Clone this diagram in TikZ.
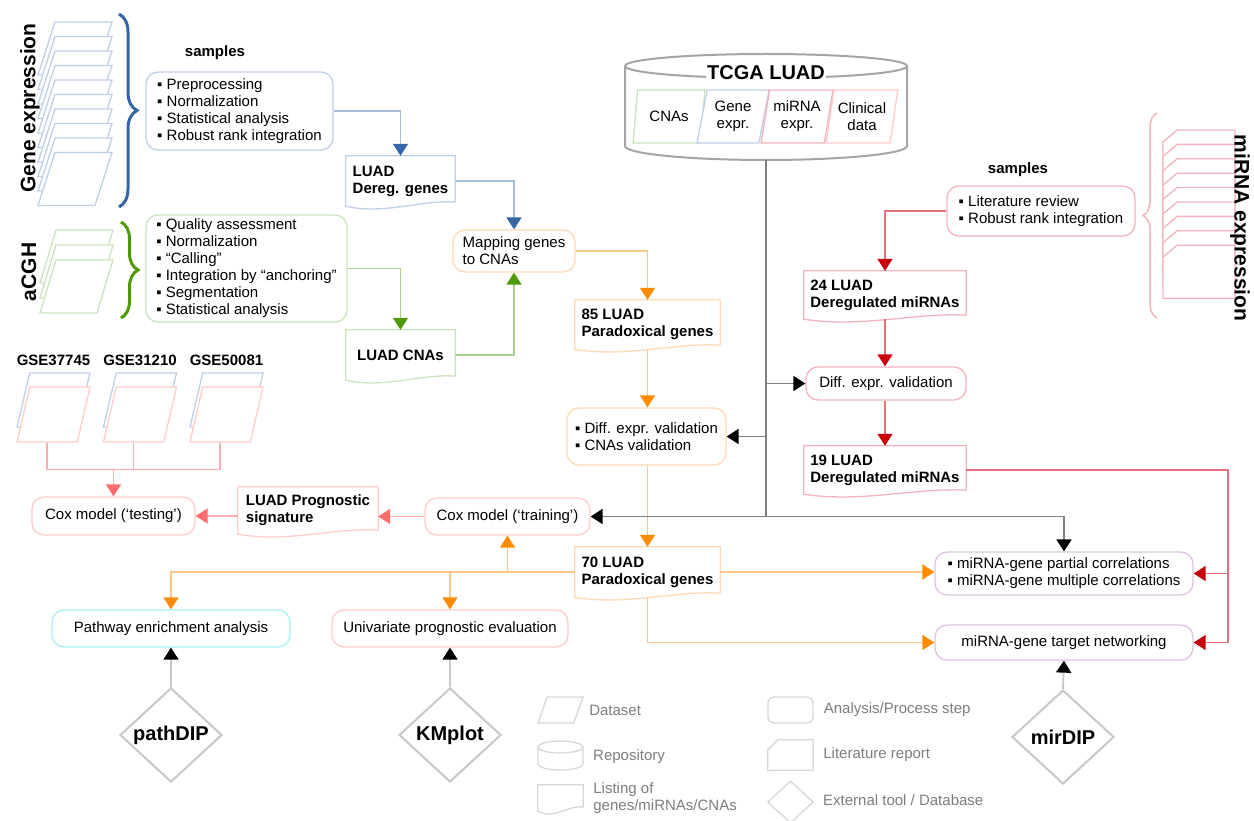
\documentclass[tikz,border=0pt]{standalone}
\usepackage{fontspec}
\setmainfont{Liberation Sans}
\usetikzlibrary{positioning,arrows.meta,calc,shapes.geometric,decorations.pathreplacing}

\definecolor{tipblue}{RGB}{52,101,164}
\definecolor{lineblue}{RGB}{168,188,222}
\definecolor{boxblue}{RGB}{192,207,232}
\definecolor{tipgreen}{RGB}{78,154,6}
\definecolor{linegreen}{RGB}{168,208,140}
\definecolor{boxgreen}{RGB}{204,228,190}
\definecolor{tiporange}{RGB}{255,140,0}
\definecolor{lineorange}{RGB}{255,198,140}
\definecolor{boxorange}{RGB}{255,218,178}
\definecolor{tipred}{RGB}{200,0,10}
\definecolor{linered}{RGB}{228,112,124}
\definecolor{boxred}{RGB}{242,180,188}
\definecolor{tippink}{RGB}{255,110,110}
\definecolor{linepink}{RGB}{255,172,172}
\definecolor{boxpink}{RGB}{255,204,204}
\definecolor{boxcyan}{RGB}{168,240,240}
\definecolor{boxviolet}{RGB}{222,196,222}
\definecolor{trunkgray}{RGB}{128,128,128}
\definecolor{toolgray}{RGB}{200,200,200}
\definecolor{repogray}{RGB}{165,165,165}
\definecolor{leggray}{RGB}{215,215,215}
\definecolor{legtext}{RGB}{125,125,125}

\newcommand\txtfont{\fontsize{15}{17}\selectfont}

% outline of a listing (wavy bottom) around a named node
\newcommand\listshape[2]{%
  \draw[#2, line width=1.3pt] ([yshift=4pt]#1.south east) -- (#1.north east) -- (#1.north west) -- (#1.south west)
    .. controls ($(#1.south west)!0.35!(#1.south east)+(0,-9pt)$) and ($(#1.south west)!0.7!(#1.south east)+(0,7pt)$) .. ([yshift=4pt]#1.south east);}

\tikzset{
  procbox/.style={draw, rounded corners=12pt, line width=1.3pt, fill=white, align=left, inner sep=3pt, font=\txtfont},
  listbox/.style={align=left, inner sep=3pt, font=\txtfont\bfseries},
  dataset/.style={trapezium, trapezium left angle=75, trapezium right angle=105, trapezium stretches=true, line width=1.3pt, fill=white, inner sep=1pt, align=center, font=\txtfont},
  tool/.style={diamond, draw=toolgray, line width=2pt, fill=white, inner sep=0pt, minimum width=102pt, minimum height=94pt, font=\fontsize{20}{22}\selectfont\bfseries},
  sidelabel/.style={font=\fontsize{21}{24}\selectfont\bfseries},
  title/.style={font=\txtfont\bfseries},
  legendtext/.style={text=legtext, align=left, inner xsep=0pt, font=\txtfont},
  legendbox/.style={draw=leggray, line width=1.3pt},
  linkarrow/.style={line width=1.5pt, -{Triangle[length=12pt, width=15pt, color=#1]}},
  bluearrow/.style={linkarrow=tipblue, draw=lineblue},
  greenarrow/.style={linkarrow=tipgreen, draw=linegreen},
  orangearrow/.style={linkarrow=tiporange, draw=lineorange},
  redarrow/.style={linkarrow=tipred, draw=linered},
  pinkarrow/.style={linkarrow=tippink, draw=linepink},
  pinkline/.style={draw=linepink, line width=1.5pt},
  trunkline/.style={draw=trunkgray, line width=1.8pt},
  trunkarrow/.style={linkarrow=black, draw=trunkgray, line width=1.8pt}
}

\begin{document}
\begin{tikzpicture}[x=1pt, y=-1pt, every node/.style={font=\txtfont}]
\useasboundingbox (0,0) rectangle (1254,821);

% sample stacks and braces
\foreach \i in {0,...,9}
  \draw[boxblue, line width=1.3pt, fill=white] (38,{75+14.5*\i}) -- ++(17,-53) -- ++(57,0) -- ++(-17,53) -- cycle;
\foreach \i in {0,1,2}
  \draw[boxgreen, line width=1.3pt, fill=white] (40,{283+15*\i}) -- ++(16,-53) -- ++(57,0) -- ++(-16,53) -- cycle;
\foreach \i in {0,...,8}
  \draw[boxred, line width=1.3pt, fill=white] (1163,{142+14.4*\i}) -- ++(14,-12) -- ++(58,0) -- ++(0,53) -- ++(-72,0) -- cycle;
\draw[tipblue, line width=3pt, decorate, decoration={brace, amplitude=18pt}] (119,14) -- (119,207);
\draw[tipgreen, line width=3pt, decorate, decoration={brace, amplitude=17pt}] (121,222) -- (121,318);
\draw[boxred, line width=1.5pt, decorate, decoration={brace, amplitude=14pt}] (1157,318) -- (1157,113);

\node[sidelabel, rotate=90] (gelabel) at (30,108) {Gene expression};
\node[sidelabel, rotate=90] (cghlabel) at (29,272) {aCGH};
\node[sidelabel, rotate=-90] (mirlabel) at (1240,228) {miRNA expression};
\node[title] (gesamples) at (215,53) {samples};
\node[title] (mirsamples) at (1018,170) {samples};

% TCGA repository
\draw[repogray, line width=2pt, fill=white] (625,66) -- (625,146) arc[start angle=180, end angle=0, x radius=141, y radius=14] -- (907,66);
\draw[repogray, line width=2pt] (766,66) ellipse[x radius=141, y radius=12];
\node[fill=white, inner sep=1pt, font=\fontsize{20}{22}\selectfont\bfseries] (tcga) at (766,73) {TCGA LUAD};
\coordinate (tcgabase) at (766,160);
\node[dataset, draw=boxgreen, trapezium left angle=77, trapezium right angle=103, minimum width=72pt, minimum height=53pt] (tcnas) at (669,116.5) {CNAs};
\node[dataset, draw=boxblue, trapezium left angle=77, trapezium right angle=103, minimum width=72pt, minimum height=53pt] (tgene) at (733,116.5) {Gene\\expr.};
\node[dataset, draw=boxred, trapezium left angle=77, trapezium right angle=103, minimum width=72pt, minimum height=53pt] (tmirna) at (797,116.5) {miRNA\\expr.};
\node[dataset, draw=boxpink, trapezium left angle=77, trapezium right angle=103, minimum width=72pt, minimum height=53pt] (tclin) at (862,116.5) {Clinical\\data};

% gene / CNA branch
\node[procbox, draw=boxblue, minimum width=187pt, minimum height=78pt] (geprep) at (239.5,111)
  {▪ Preprocessing\\▪ Normalization\\▪ Statistical analysis\\▪ Robust rank integration};
\node[procbox, draw=boxgreen, minimum width=201pt, minimum height=107pt] (cghprep) at (246.5,268.5)
  {▪ Quality assessment\\▪ Normalization\\▪ “Calling”\\▪ Integration by “anchoring”\\▪ Segmentation\\▪ Statistical analysis};
\node[listbox, minimum width=109pt, minimum height=50pt] (dereg) at (400.5,181) {LUAD\\Dereg. genes};
\listshape{dereg}{boxblue}
\node[listbox, minimum width=109pt, minimum height=50pt] (cnas) at (400.5,355) {LUAD CNAs};
\listshape{cnas}{boxgreen}
\node[procbox, draw=boxorange, minimum width=122pt, minimum height=42pt] (mapping) at (514,251) {Mapping genes\\to CNAs};
\node[listbox, minimum width=145pt, minimum height=49pt] (para85) at (647.5,324.5) {85 LUAD\\Paradoxical genes};
\listshape{para85}{boxorange}
\node[procbox, draw=boxorange, minimum width=159pt, minimum height=57pt] (gval) at (646.5,436.5)
  {▪ Diff. expr. validation\\▪ CNAs validation};
\node[listbox, minimum width=145pt, minimum height=50pt] (para70) at (647.5,572) {70 LUAD\\Paradoxical genes};
\listshape{para70}{boxorange}

% prognostic branch
\node[procbox, draw=boxpink, align=center, minimum width=165pt, minimum height=37pt] (coxtrain) at (507.5,516.5) {Cox model (‘training’)};
\node[listbox, minimum width=140pt, minimum height=47pt] (progsig) at (308,510.5) {LUAD Prognostic\\signature};
\listshape{progsig}{boxpink}
\node[procbox, draw=boxpink, align=center, minimum width=163pt, minimum height=38pt] (coxtest) at (113.5,516) {Cox model (‘testing’)};
\node[dataset, draw=boxblue, minimum width=73pt, minimum height=54pt] (gse1b) at (53.5,400) {};
\node[dataset, draw=boxpink, minimum width=73pt, minimum height=55pt] (gse1) at (53.5,414.5) {};
\node[dataset, draw=boxblue, minimum width=73pt, minimum height=54pt] (gse2b) at (140,400) {};
\node[dataset, draw=boxpink, minimum width=73pt, minimum height=55pt] (gse2) at (140,414.5) {};
\node[dataset, draw=boxblue, minimum width=73pt, minimum height=54pt] (gse3b) at (226.5,400) {};
\node[dataset, draw=boxpink, minimum width=73pt, minimum height=55pt] (gse3) at (226.5,414.5) {};
\node[title, above=3pt of gse1b] (gse1lab) {GSE37745};
\node[title, above=3pt of gse2b] (gse2lab) {GSE31210};
\node[title, above=3pt of gse3b] (gse3lab) {GSE50081};
\coordinate (gse1foot) at ($(gse1.bottom left corner)!0.5!(gse1.bottom right corner)$);
\coordinate (gse2foot) at ($(gse2.bottom left corner)!0.5!(gse2.bottom right corner)$);
\coordinate (gse3foot) at ($(gse3.bottom left corner)!0.5!(gse3.bottom right corner)$);
\coordinate (gsejoin) at ([yshift=-27pt]gse2foot);

% miRNA branch
\node[procbox, draw=boxred, minimum width=188pt, minimum height=50pt] (litrev) at (1041,211)
  {▪ Literature review\\▪ Robust rank integration};
\node[listbox, minimum width=162pt, minimum height=48pt] (mir24) at (885,295) {24 LUAD\\Deregulated miRNAs};
\listshape{mir24}{boxred}
\node[procbox, draw=boxred, align=center, minimum width=160pt, minimum height=33pt] (mval) at (886,383.5) {Diff. expr. validation};
\node[listbox, minimum width=162pt, minimum height=48pt] (mir19) at (885,470) {19 LUAD\\Deregulated miRNAs};
\listshape{mir19}{boxred}
\node[procbox, draw=boxviolet, minimum width=258pt, minimum height=43pt] (partial) at (1064,573.5)
  {▪ miRNA-gene partial correlations\\▪ miRNA-gene multiple correlations};
\node[procbox, draw=boxviolet, align=center, minimum width=258pt, minimum height=35pt] (target) at (1064,642.5) {miRNA-gene target networking};
\coordinate (redside) at (1228,470);

% downstream analyses and tools
\node[procbox, draw=boxcyan, align=center, minimum width=238pt, minimum height=37pt] (pathway) at (171,628.5) {Pathway enrichment analysis};
\node[procbox, draw=boxpink, align=center, minimum width=236pt, minimum height=37pt] (univar) at (450,628.5) {Univariate prognostic evaluation};
\node[tool] (pathdip) at (171,735) {pathDIP};
\node[tool] (kmplot) at (450,735) {KMplot};
\node[tool] (mirdip) at (1063,737) {mirDIP};

% connectors
\draw[bluearrow] (geprep.east) -| (dereg.north);
\draw[bluearrow] (dereg.east) -| (mapping.north);
\draw[greenarrow] (cghprep.east) -| (cnas.north);
\draw[greenarrow] (cnas.east) -| (mapping.south);
\draw[orangearrow] (mapping.east) -| (para85.north);
\draw[orangearrow] (para85.south) -- (para85.south |- gval.north);
\draw[orangearrow] (gval.south -| para85.south) -- (para85.south |- para70.north);
\draw[orangearrow] (para70.west) -| (pathway.north);
\draw[orangearrow] (para70.west -| univar.north) -- (univar.north);
\draw[orangearrow] (para70.west -| coxtrain.south) -- (coxtrain.south);
\draw[orangearrow] (para70.east) -- (para70.east -| partial.west);
\draw[orangearrow] (para70.south) |- (target.west);

\draw[trunkline] (tcgabase) -- (tcgabase |- coxtrain.east);
\draw[trunkarrow] (tcgabase |- mval.west) -- (mval.west);
\draw[trunkarrow] (tcgabase |- gval.east) -- (gval.east);
\draw[trunkarrow] (tcgabase |- coxtrain.east) -- (coxtrain.east);
\draw[trunkarrow] (tcgabase |- coxtrain.east) -| (partial.north);

\draw[pinkarrow] (coxtrain.west) -- (coxtrain.west -| progsig.east);
\draw[pinkarrow] (progsig.west |- coxtest.east) -- (coxtest.east);
\draw[pinkline] (gse1foot) |- (gsejoin) -| (gse3foot);
\draw[pinkline] (gse2foot) -- (gsejoin);
\draw[pinkarrow] (gsejoin -| coxtest.north) -- (coxtest.north);

\draw[redarrow] (litrev.west) -| (mir24.north);
\draw[redarrow] (mir24.south) -- (mval.north -| mir24.south);
\draw[redarrow] (mval.south -| mir19.north) -- (mir19.north);
\draw[redarrow] (mir19.east) -- (redside) |- (target.east);
\draw[redarrow] (redside |- partial.east) -- (partial.east);

\draw[trunkarrow, draw=toolgray] (pathdip.north) -- (pathway.south);
\draw[trunkarrow, draw=toolgray] (kmplot.north) -- (univar.south);
\draw[trunkarrow, draw=toolgray] (mirdip.north) -- (target.south);

% legend
\node[dataset, legendbox, trapezium left angle=71, trapezium right angle=109, minimum width=45pt, minimum height=26pt] (legdata) at (560.5,710) {};
\node[legendtext, right=10pt of legdata] (legdatatxt) {Dataset};
\draw[legendbox] (538,747) -- (538,764) arc[start angle=180, end angle=0, x radius=22.5, y radius=6] -- (583,747);
\draw[legendbox] (560.5,747) ellipse[x radius=22.5, y radius=6];
\node[legendtext, anchor=west] (legrepotxt) at (593,757) {Repository};
\node[minimum width=45pt, minimum height=26pt, inner sep=0pt] (leglist) at (560.5,798) {};
\listshape{leglist}{leggray}
\node[legendtext, right=10pt of leglist] (leglisttxt) {Listing of\\genes/miRNAs/CNAs};
\node[legendbox, rounded corners=6pt, minimum width=45pt, minimum height=26pt, inner sep=0pt] (legproc) at (790.5,710) {};
\node[legendtext, right=10pt of legproc] (legproctxt) {Analysis/Process step};
\node[minimum width=45pt, minimum height=30pt, inner sep=0pt] (legrep) at (790.5,755) {};
\draw[legendbox] (legrep.south west) -- ([yshift=-10pt]legrep.north west) -- ([xshift=10pt]legrep.north west) -- (legrep.north east) -- (legrep.south east) -- cycle;
\node[legendtext, right=10pt of legrep] (legreptxt) {Literature report};
\node[diamond, legendbox, minimum width=46pt, minimum height=42pt, inner sep=0pt] (legtool) at (790.5,802) {};
\node[legendtext, anchor=west] (legtooltxt) at (823,800) {External tool / Database};
\end{tikzpicture}
\end{document}
